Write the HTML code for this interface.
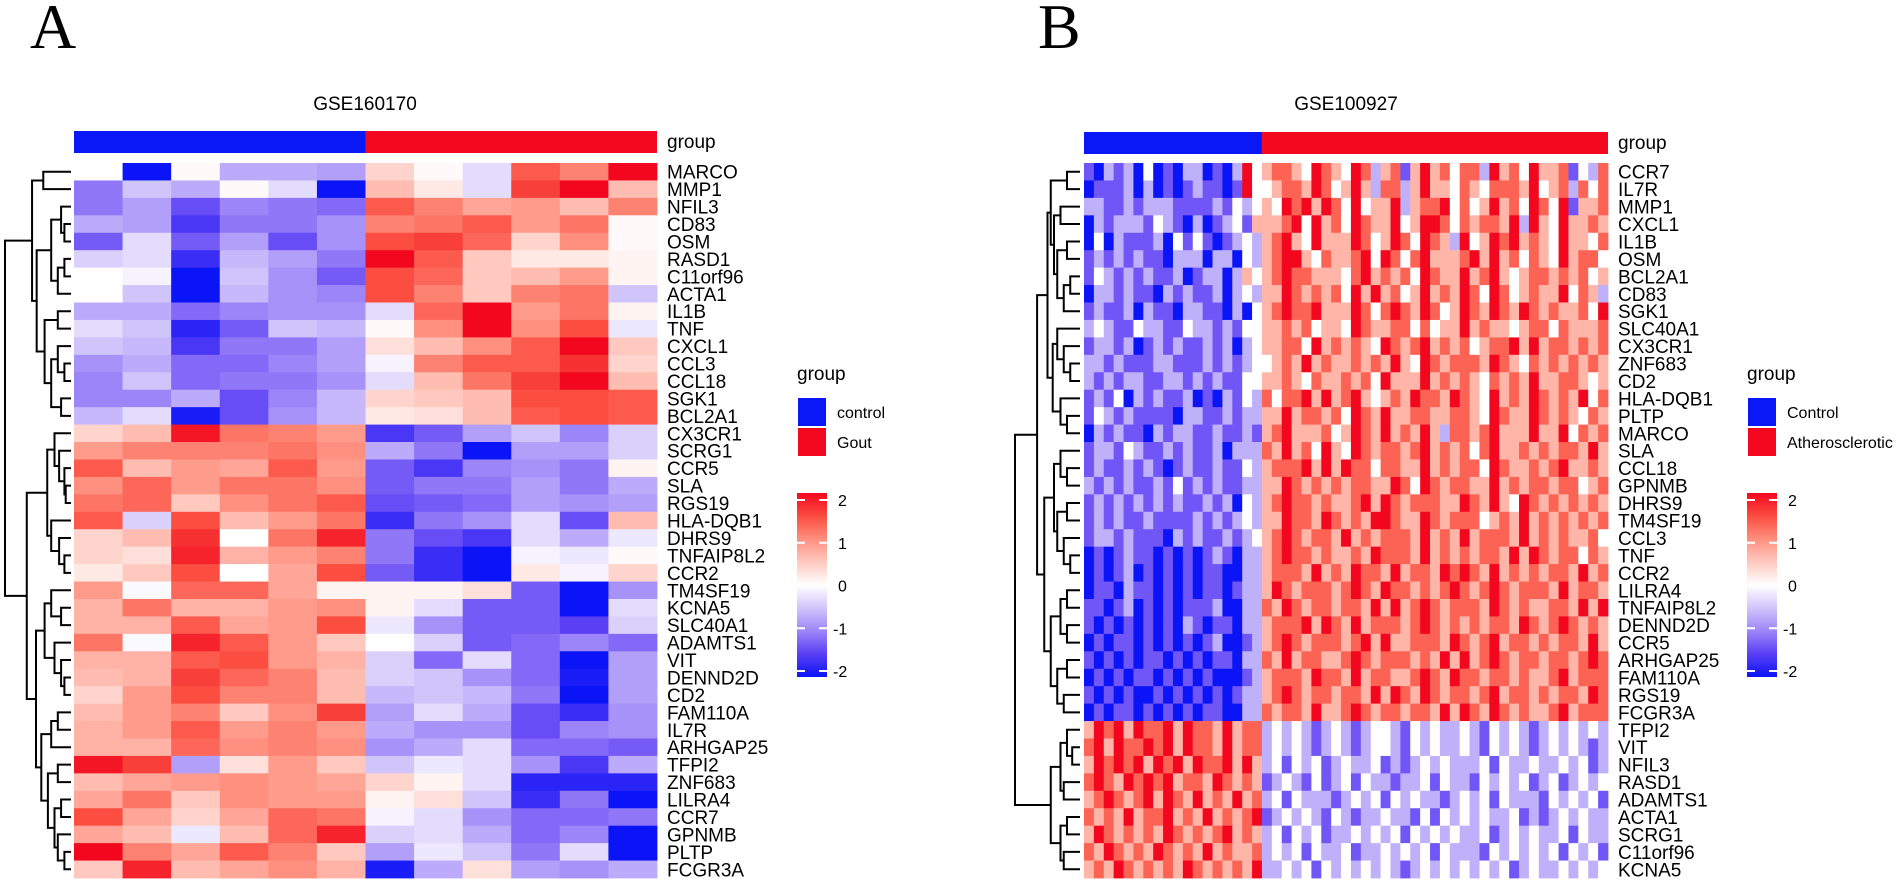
<!DOCTYPE html>
<html><head><meta charset="utf-8"><style>
html,body{margin:0;padding:0;background:#fff}
svg{display:block;font-family:"Liberation Sans",Arial,sans-serif}
</style></head><body>
<svg id="fig" width="1900" height="887" viewBox="0 0 1900 887" xmlns="http://www.w3.org/2000/svg">
<text x="30" y="48" font-family="Liberation Serif,serif" font-size="64">A</text>
<text x="1038" y="48" font-family="Liberation Serif,serif" font-size="64">B</text>
<text x="365" y="110" font-size="19" text-anchor="middle">GSE160170</text>
<text x="1346" y="110" font-size="19" text-anchor="middle">GSE100927</text>
<g id="pa"></g>
<g id="pb"></g>
</svg>
<script>
const genesA=["MARCO","MMP1","NFIL3","CD83","OSM","RASD1","C11orf96","ACTA1","IL1B","TNF","CXCL1","CCL3","CCL18","SGK1","BCL2A1","CX3CR1","SCRG1","CCR5","SLA","RGS19","HLA-DQB1","DHRS9","TNFAIP8L2","CCR2","TM4SF19","KCNA5","SLC40A1","ADAMTS1","VIT","DENND2D","CD2","FAM110A","IL7R","ARHGAP25","TFPI2","ZNF683","LILRA4","CCR7","GPNMB","PLTP","FCGR3A"];
const groupsA=["control","control","control","control","control","control","Gout","Gout","Gout","Gout","Gout","Gout"];
const valuesA=[
[0,-2,0.05,-0.7,-0.7,-0.8,0.4,0.05,-0.3,1.4,1.1,2],
[-1.1,-0.5,-0.7,0.05,-0.3,-2,0.6,0.2,-0.3,1.6,2,0.6],
[-1.1,-0.8,-1.4,-1,-1.1,-1.2,1.4,1.1,0.8,0.9,0.6,1.1],
[-0.7,-0.8,-1.6,-1.1,-1.1,-0.9,1.1,1.2,1.4,0.9,1.2,0.05],
[-1.3,-0.3,-1.3,-0.8,-1.4,-0.9,1.5,1.6,1.3,0.4,1,0.05],
[-0.4,-0.3,-1.7,-0.6,-0.8,-1.1,2,1.4,0.5,0.2,0.2,0.1],
[0,-0.1,-2,-0.5,-0.9,-1.3,1.5,1.3,0.5,0.6,0.9,0.1],
[0,-0.5,-2,-0.6,-0.9,-1,1.5,1.1,0.5,1.1,1.2,-0.5],
[-0.7,-0.7,-1.2,-1,-0.9,-0.9,-0.3,1.3,2,0.9,1.2,0.1],
[-0.3,-0.5,-1.8,-1.3,-0.5,-0.6,0.05,1,2,1,1.5,-0.2],
[-0.5,-0.6,-1.6,-1.1,-1.1,-0.8,0.3,0.6,1,1.4,2,0.5],
[-0.9,-0.7,-1.2,-1.2,-1,-0.8,-0.1,1.1,1.4,1.4,1.7,0.4],
[-1,-0.5,-1.2,-1.1,-1.1,-0.9,-0.3,0.6,1.2,1.6,2,0.6],
[-1,-1,-0.7,-1.4,-1,-0.6,0.4,0.5,0.6,1.5,1.5,1.4],
[-0.6,-0.3,-1.9,-1.4,-0.9,-0.6,0.2,0.3,0.6,1.4,1.5,1.4],
[0.4,0.6,1.9,1.2,1.1,0.9,-1.6,-1.3,-0.8,-0.5,-1,-0.4],
[0.9,1.1,1.1,1.1,1.2,1,-0.7,-1.1,-2,-0.8,-0.8,-0.4],
[1.4,0.6,0.9,0.8,1.4,0.9,-1.3,-1.6,-1,-0.9,-1.1,0.1],
[1,1.3,0.9,1.2,1.2,1,-1.3,-1.1,-1.1,-0.8,-1.1,-0.7],
[1.2,1.3,0.5,1,1.2,1.4,-1.4,-1.3,-1.2,-0.8,-0.9,-0.8],
[1.4,-0.4,1.5,0.6,0.9,1.2,-1.7,-1.1,-0.9,-0.3,-1.4,0.6],
[0.4,0.6,1.7,0,1.2,1.8,-1.1,-1.4,-1.6,-0.3,-0.7,-0.2],
[0.4,0.3,1.8,0.7,0.9,1.1,-1.1,-1.7,-2,-0.1,-0.2,0.05],
[0.2,0.5,1.5,0,0.8,1.5,-1.3,-1.7,-2,0.2,-0.1,0.4],
[0.9,-0.05,1.3,1.3,0.8,0.1,0.1,0.1,0.3,-1.3,-2,-0.9],
[0.7,1.2,0.7,0.7,0.9,1,0.1,-0.3,-1.3,-1.3,-2,-0.3],
[0.7,0.7,1.4,0.8,0.9,1.5,-0.2,-0.9,-1.3,-1.3,-1.5,-0.4],
[1.2,-0.05,1.8,1.4,0.9,0.5,0.01,-0.4,-1.3,-1.2,-1,-1.2],
[0.7,0.7,1.4,1.5,0.9,0.7,-0.4,-1.2,-0.3,-1.2,-2,-0.8],
[0.6,0.7,1.6,1.3,1.1,0.6,-0.4,-0.5,-0.9,-1.2,-1.9,-0.8],
[0.4,0.9,1.5,1.1,1.1,0.6,-0.6,-0.5,-0.6,-1.1,-2,-0.8],
[0.6,0.9,1.1,0.5,1,1.6,-0.8,-0.3,-0.7,-1.4,-1.7,-0.9],
[0.7,0.9,1.4,0.9,1.1,0.9,-0.7,-0.9,-0.9,-1.4,-1,-0.9],
[0.7,0.7,1.3,1,1.1,1,-0.9,-0.7,-0.3,-1.2,-1.2,-1.3],
[1.9,1.6,-0.8,0.3,0.9,0.5,-0.5,-0.2,-0.3,-0.9,-1.6,-0.7],
[0.6,0.8,0.9,1,0.9,0.8,0.4,0.1,-0.3,-1.8,-1.8,-1.8],
[0.8,1.2,0.5,1,0.9,0.9,0.1,0.3,-0.5,-1.7,-1.1,-2],
[1.5,0.8,0.4,0.8,1.3,1.2,-0.1,-0.3,-0.9,-1.2,-1.2,-1.1],
[0.8,0.6,-0.2,0.6,1.3,1.8,-0.4,-0.3,-0.7,-1.2,-1,-2],
[2,1.1,0.8,1.4,1.1,0.5,-0.8,-0.2,-0.5,-1.1,-0.3,-2],
[0.5,1.8,0.6,0.8,1,0.7,-1.9,-0.7,0.3,-0.8,-0.9,-0.7]];
const treeA=[1,[0.59,[0.42,0,1],[0.52,[0.3,[0.15,2,[0.1,3,4]],[0.2,[0.1,5,6],7]],[0.4,[0.2,8,9],[0.3,[0.2,10,[0.1,11,12]],[0.15,13,14]]]]],[0.67,[0.36,[0.25,15,[0.18,16,[0.1,17,[0.08,18,19]]]],[0.3,20,[0.18,21,[0.1,22,23]]]],[0.53,[0.4,[0.3,24,[0.15,25,26]],[0.25,27,[0.15,28,[0.1,29,30]]]],[0.45,[0.3,[0.2,31,32],33],[0.35,[0.2,34,35],[0.25,[0.15,36,37],[0.2,38,[0.1,39,40]]]]]]]];

const genesB=["CCR7","IL7R","MMP1","CXCL1","IL1B","OSM","BCL2A1","CD83","SGK1","SLC40A1","CX3CR1","ZNF683","CD2","HLA-DQB1","PLTP","MARCO","SLA","CCL18","GPNMB","DHRS9","TM4SF19","CCL3","TNF","CCR2","LILRA4","TNFAIP8L2","DENND2D","CCR5","ARHGAP25","FAM110A","RGS19","FCGR3A","TFPI2","VIT","NFIL3","RASD1","ADAMTS1","ACTA1","SCRG1","C11orf96","KCNA5"];
const nControlB=18, nAtheroB=35;
// digit codes 0..8 -> z-score (d-4)/1.5 ; first 18 columns Control, remaining 35 Atherosclerotic
const codesB=[
"213231402133121384"+"56654765486356257564663756475562436",
"122231302123221284"+"45665764575366357554654666574563646",
"332232333222232434"+"54867576484557356674645756476482556",
"132333243213123425"+"55674856476557457764656658375475565",
"141322231424212343"+"56754755576457648653745767565485546",
"232323221333133143"+"56875465567486467555675856465475664",
"243232322312331354"+"56766555467565647655756754566565645",
"133232213232231343"+"55765656485756457565764864565574653",
"232231322133221314"+"56766755576467658645765765765655647",
"343224332243323244"+"55656455476556646455756554566465556",
"233231232322323134"+"55664756565476567565645667575665656",
"332322233222323234"+"45657565565657547656665765465656565",
"323233223323232244"+"55654655656475557565654656575566545",
"232413232231213243"+"64667575675456576657654756576565746",
"243232222133223233"+"55756656476575566556654765576565465",
"132322132332232232"+"56755564576575657536656755575574656",
"233243223232231333"+"65756475476566567565646755656566575",
"232232321232232243"+"56667575766466557565664865565675565",
"323232232423232233"+"55765656566557648656655756566566456",
"232323232322323143"+"56766565567576566655765754765656565",
"232322322223232343"+"55766576565776557656664565756565656",
"233232221323223234"+"56765665756566657565756665756565564",
"121232212121232133"+"56766565565766657565656657576566465",
"121231212121221133"+"56665756576657566576765756565665756",
"122132212121221233"+"57656665676576656567656765666575665",
"221231212122231133"+"65765665665757567656665765655665757",
"212121212132122133"+"56667576575666567656565665765676565",
"121221212121231123"+"56765666567575566657656756656566575",
"212121221212122133"+"65756655676566656575756765665665676",
"121212212121211123"+"56665766575665567657665665655675666",
"212121121212121233"+"56765665665757657656656756656566576",
"121221212121221133"+"65665755676566566575765765655675666",
"576757667576657566"+"34343234323443243433432434323434343",
"675766867576657566"+"34343234323443243433432434323434323",
"576867576857667575"+"34243423433423234343334243343343423",
"686576867566576565"+"23432423424332334243324343423423434",
"567656758657565756"+"34243332343424343323434243332434342",
"656575667565756567"+"23434324323343324243434334232343433",
"576565657656567565"+"34243423343434243434334234343342433",
"657656576565756556"+"34342433423343434243332434343424342",
"565765656576565657"+"33434243434343234343434342343343434"];
const treeB=[1,[0.66,[0.5,[0.45,[0.2,0,1],[0.4,[0.3,2,3],[0.35,[0.2,4,5],[0.25,[0.15,6,7],8]]]],[0.42,[0.35,9,[0.25,10,[0.15,11,12]]],[0.3,13,[0.2,14,15]]]],[0.55,[0.4,[0.3,16,[0.2,17,18]],[0.35,[0.2,19,20],[0.25,21,[0.15,22,23]]]],[0.45,[0.3,[0.2,24,25],[0.2,26,27]],[0.35,[0.2,28,29],[0.25,30,31]]]]],[0.45,[0.3,[0.2,32,[0.12,33,34]],[0.25,35,36]],[0.3,[0.2,37,38],[0.25,39,40]]]];
const legendTicks=[2,1,0,-1,-2];

const NS="http://www.w3.org/2000/svg";
function mk(tag,attrs,parent){const e=document.createElementNS(NS,tag);for(const k in attrs)e.setAttribute(k,attrs[k]);parent.appendChild(e);return e;}
const stops=[[-2,[10,20,247]],[-1.5,[90,63,245]],[-1,[156,133,248]],[-0.5,[208,197,251]],[0,[255,255,255]],[0.5,[255,201,191]],[1,[255,143,126]],[1.5,[251,77,64]],[2,[242,7,30]]];
function col(v){v=Math.max(-2,Math.min(2,v));for(let i=0;i<stops.length-1;i++){const a=stops[i],b=stops[i+1];if(v<=b[0]){const t=(v-a[0])/(b[0]-a[0]);const c=a[1].map((x,j)=>Math.round(x+(b[1][j]-x)*t));return`rgb(${c[0]},${c[1]},${c[2]})`;}}return"rgb(242,7,30)";}

function panel(g,cfg){
  const nR=cfg.genes.length,nC=cfg.nCols;
  const rh=(cfg.bottom-cfg.top)/nR, cw=(cfg.x1-cfg.x0)/nC;
  const xS=c=>cfg.x0+c*cw, yS=r=>cfg.top+r*rh;
  const nCtl=cfg.nCtl;
  let gb=mk('rect',{x:cfg.x0,y:cfg.barY,width:nCtl*cw,height:22,fill:'#0a18f8'},g);
  
  
  gb=mk('rect',{x:cfg.x0+nCtl*cw,y:cfg.barY,width:(nC-nCtl)*cw,height:22,fill:'#f3081f'},g);
  
  
  let t=mk('text',{x:cfg.x1+10,y:cfg.barY+17,'font-size':19},g);t.textContent='group';
  
  
  for(let r=0;r<nR;r++){
    for(let c=0;c<nC;c++){
      const v=cfg.val(r,c);
      const e=mk('rect',{x:xS(c).toFixed(2),y:yS(r).toFixed(2),width:(cw+0.4).toFixed(2),height:(rh+0.4).toFixed(2),fill:col(v)},g);
      
      
    }
    const lb=mk('text',{x:cfg.x1+10,y:(yS(r)+rh/2+7).toFixed(1),'font-size':19},g);
    lb.textContent=cfg.genes[r];
    
    
  }
  const dg=mk('g',{stroke:'#000','stroke-width':2,fill:'none'},g);
  
  
  const hx=h=>cfg.leafX-h*(cfg.leafX-cfg.rootX);
  function draw(n){
    if(typeof n==='number') return {y:yS(n)+rh/2,x:cfg.leafX};
    const a=draw(n[1]),b=draw(n[2]),x=hx(n[0]);
    mk('path',{d:`M${a.x},${a.y}H${x}V${b.y}H${b.x}`},dg);
    return {y:(a.y+b.y)/2,x:x};
  }
  draw(cfg.tree);
  const L=cfg.legX;
  t=mk('text',{x:L,y:380,'font-size':19},g);t.textContent='group';
  
  
  cfg.legendLabels.forEach((s,i)=>{
    const r=mk('rect',{x:L+1,y:398+i*30,width:28,height:28,fill:i?'#f3081f':'#0a18f8'},g);
    
    
    const tt=mk('text',{x:L+40,y:418+i*30,'font-size':16},g);tt.textContent=s;
    
    
  });
  const gid='grad'+cfg.id;
  const defs=mk('defs',{},g);const lg=mk('linearGradient',{id:gid,x1:0,y1:0,x2:0,y2:1},defs);
  for(let i=0;i<=16;i++){const v=2-i*0.25;mk('stop',{offset:(i/16),'stop-color':col(v)},lg);}
  const cb=mk('rect',{x:L,y:493,width:30,height:184,fill:`url(#${gid})`},g);
  
  
  const cy=v=>500+(2-v)/4*171;
  legendTicks.forEach(v=>{
    mk('path',{d:`M${L},${cy(v)}h8M${L+22},${cy(v)}h8`,stroke:'#fff','stroke-width':2},g);
    const tt=mk('text',{x:L+(v<0?36:41),y:cy(v)+6,'font-size':16},g);tt.textContent=String(v);
    
    
  });
}
panel(document.getElementById('pa'),{id:'A',genes:genesA,nCols:groupsA.length,nCtl:groupsA.filter(s=>s==='control').length,
  x0:74,x1:657,top:163,bottom:878,barY:131,leafX:71,rootX:5,tree:treeA,legX:797,legendLabels:['control','Gout'],
  val:(r,c)=>valuesA[r][c]});
panel(document.getElementById('pb'),{id:'B',genes:genesB,nCols:nControlB+nAtheroB,nCtl:nControlB,
  x0:1084,x1:1608,top:163,bottom:878,barY:132,leafX:1080,rootX:1015,tree:treeB,legX:1747,legendLabels:['Control','Atherosclerotic'],
  val:(r,c)=>{const ch=codesB[r][c];return ch===undefined?0:(parseInt(ch)-4)/1.5;}});
</script>
</body></html>
